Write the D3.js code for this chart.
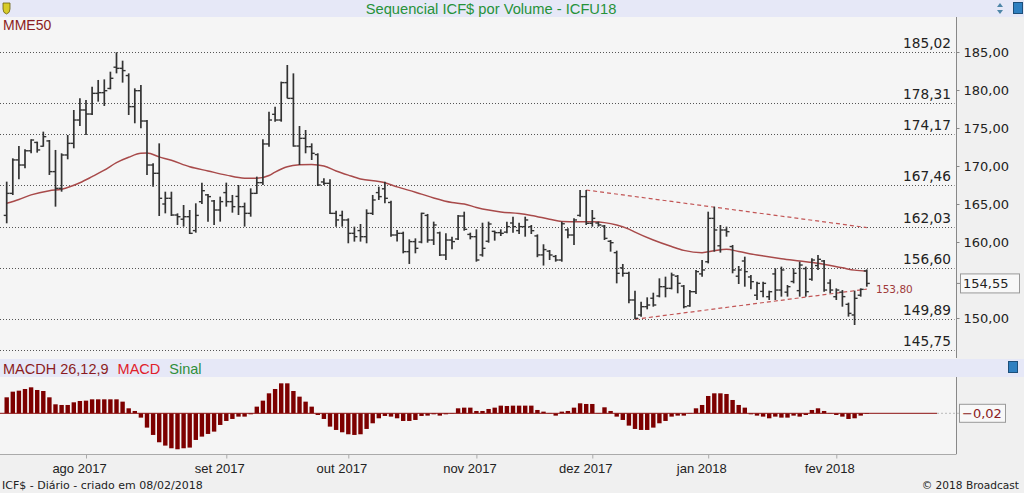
<!DOCTYPE html>
<html>
<head>
<meta charset="utf-8">
<script src="https://cdn.jsdelivr.net/npm/d3@7"></script>
<style>
body { margin: 0; background: #f0f0f0; overflow: hidden; }
text { font-family: "Liberation Sans", Arial, sans-serif; }
.num { font-family: "DejaVu Sans", Verdana, sans-serif; }
</style>
</head>
<body>
<div id="chart"></div>
<script>
// daily bars (ICFU18)
const highs = [167.94,171.01,172.63,172.19,173.51,173.20,174.52,173.42,172.11,171.67,
  174.08,177.37,178.90,178.69,180.44,181.32,181.40,182.41,184.96,183.86,
  182.19,180.22,180.66,176.05,170.35,172.98,166.62,166.62,163.77,164.87,
  164.21,165.09,167.81,166.32,165.53,165.97,167.81,166.19,167.50,165.18,
  167.06,168.60,173.51,177.15,177.81,181.10,183.29,182.19,175.26,174.74,
  172.98,171.67,168.38,168.25,164.12,164.12,163.11,162.02,162.37,164.30,
  166.19,167.28,167.94,165.44,161.58,161.36,160.35,160.48,163.86,163.69,
  162.68,161.36,161.14,160.70,163.55,163.99,161.23,161.67,162.54,162.68,
  161.49,161.67,162.68,163.33,162.54,163.33,162.24,161.00,159.70,158.95,
  158.29,162.68,161.80,163.11,166.84,166.84,164.21,162.68,162.24,160.26,
  158.86,157.11,156.10,153.60,152.15,152.72,153.33,155.22,155.44,155.97,
  155.66,154.34,153.68,156.32,157.63,163.99,164.65,162.24,162.02,159.61,
  156.84,158.07,155.66,154.78,154.78,153.60,156.54,156.76,154.34,156.54,
  157.41,156.76,157.85,158.29,157.63,155.09,153.90,153.68,152.02,153.60,
  153.90,156.40];
const lows = [162.46,166.18,168.25,169.69,171.67,171.76,172.54,168.82,164.65,166.62,
  170.88,172.33,175.26,174.08,176.71,178.47,177.90,180.09,182.19,180.97,
  176.71,175.62,174.96,168.82,167.28,163.42,163.77,163.42,162.24,162.02,
  161.05,161.23,165.00,162.68,162.24,162.68,164.65,163.86,163.55,162.02,
  163.33,166.32,167.50,172.54,175.83,175.83,178.90,172.54,170.13,171.67,
  170.79,167.37,167.50,163.69,162.02,162.02,159.83,160.05,160.05,159.83,
  163.55,165.53,165.09,160.70,160.05,158.51,157.11,158.51,159.83,159.91,
  159.61,158.16,157.63,159.04,160.26,161.49,160.35,157.41,158.07,159.91,
  160.18,160.79,161.14,161.23,161.05,160.70,161.05,158.00,156.90,157.63,
  157.41,157.41,160.48,159.61,163.33,162.24,162.02,162.02,160.26,158.73,
  154.56,155.44,151.93,149.83,150.18,151.14,151.49,152.72,152.72,153.77,
  153.25,151.27,151.49,153.16,155.44,157.19,158.73,158.60,160.70,155.88,
  154.47,154.12,153.77,152.37,152.72,152.37,152.37,152.81,152.81,154.56,
  152.81,152.81,154.91,156.32,153.46,153.25,152.37,151.49,150.18,149.08,
  152.81,154.12];
const opens = [163.50,166.40,170.80,170.13,172.00,173.10,172.60,173.30,169.26,167.06,
  171.45,172.98,176.05,177.37,176.84,179.56,179.65,180.20,183.00,182.85,
  181.90,177.81,179.91,175.92,170.13,169.04,165.00,165.75,163.55,163.00,
  163.33,161.50,165.30,166.20,165.40,164.21,166.50,165.31,166.00,164.65,
  163.77,166.40,167.81,172.90,176.80,176.05,180.97,178.90,172.63,173.64,
  172.54,171.50,167.90,167.72,163.77,163.50,162.90,161.14,161.50,160.70,
  163.77,166.50,167.00,165.20,160.92,161.14,158.73,160.05,160.00,163.50,
  160.26,161.20,158.29,160.26,160.40,163.42,161.00,160.70,158.30,160.10,
  161.40,161.23,161.30,162.50,161.50,162.02,162.00,160.80,158.30,158.80,
  158.10,157.63,161.60,160.92,163.50,165.97,162.46,162.50,162.10,160.10,
  158.60,156.60,155.88,152.37,150.40,151.49,152.60,152.90,154.12,153.90,
  155.50,154.20,151.60,153.46,155.80,157.40,163.11,159.50,161.58,159.40,
  155.50,157.50,155.40,153.00,153.50,152.80,155.80,153.68,153.40,154.80,
  153.60,156.50,155.10,156.90,157.50,154.60,152.80,153.40,151.80,150.40,
  153.00,156.20];
const closes = [166.40,170.80,170.13,172.00,173.42,172.11,173.86,169.26,167.06,171.45,
  172.98,176.05,177.37,176.84,179.56,179.65,179.91,181.54,182.85,182.55,
  177.81,179.91,175.92,170.13,169.04,165.75,165.75,163.55,163.33,163.33,
  161.14,163.50,166.75,165.97,164.21,165.31,165.31,164.65,164.65,163.77,
  166.40,167.81,172.90,176.05,176.05,180.97,178.90,172.63,173.64,172.54,
  171.67,167.50,167.72,163.77,162.90,162.90,161.14,160.70,160.70,163.77,
  165.53,165.97,165.75,160.92,161.14,158.73,160.05,159.17,163.77,160.26,
  162.24,158.29,160.26,160.05,163.42,161.67,160.70,157.63,159.17,162.37,
  161.23,161.14,162.02,162.02,162.02,162.90,161.49,158.30,159.00,158.29,
  157.63,162.40,160.92,162.90,165.97,162.46,163.11,162.24,160.48,159.91,
  155.88,155.88,152.37,149.96,151.49,151.71,151.71,154.12,153.90,155.66,
  154.56,151.49,153.46,156.10,156.32,163.11,161.58,161.58,161.36,156.32,
  156.32,156.10,154.78,154.56,154.56,153.46,153.68,156.32,154.12,155.88,
  156.97,153.46,157.63,157.72,153.68,153.68,153.68,152.81,150.61,152.59,
  153.77,154.55];

// MME50 read at some bars
const mmeBar = [0,2,4,7,9,12,14,16,18,20,22,23,25,27,30,33,36,39,41,43,44,46,48,50,52,54,56,58,61,62,
  64,67,68,70,73,75,77,79,81,84,86,89,91,94,96,98,100,102,103,106,109,111,114,116,118,120,123,127,130,133,137,139,141];
const mmeVal = [165.1,165.6,166.2,166.75,166.95,167.8,168.6,169.45,170.45,171.15,171.67,171.7,171.2,170.75,169.9,169.35,168.8,168.4,168.38,168.75,
  169.2,169.9,170.15,170.2,170.0,169.35,168.8,168.3,167.95,167.8,
  167.25,166.55,166.3,165.8,165.2,165.0,164.55,164.2,163.95,163.75,163.5,163.0,162.7,162.67,162.65,162.55,162.24,161.7,161.3,160.26,
  159.4,158.9,158.6,158.86,159.04,158.75,158.3,157.8,157.5,157.2,156.6,156.3,156.15];

// MACD histogram
const macdHist = [0.48,0.65,0.68,0.73,0.78,0.70,0.67,0.48,0.27,0.25,
  0.25,0.33,0.37,0.38,0.42,0.42,0.42,0.42,0.42,0.35,
  0.15,0.07,-0.13,-0.43,-0.65,-0.87,-0.97,-1.05,-1.08,-1.05,
  -1.03,-0.80,-0.70,-0.62,-0.55,-0.35,-0.23,-0.17,-0.10,-0.10,
  -0.03,0.20,0.38,0.60,0.73,0.90,0.90,0.67,0.50,0.35,
  0.20,-0.05,-0.17,-0.40,-0.50,-0.57,-0.63,-0.65,-0.63,-0.47,
  -0.30,-0.15,-0.08,-0.10,-0.15,-0.23,-0.23,-0.20,-0.08,-0.07,
  -0.03,-0.07,-0.03,-0.01,0.15,0.17,0.17,0.07,0.07,0.13,
  0.17,0.23,0.22,0.23,0.23,0.23,0.23,0.10,0.05,0.01,
  -0.07,0.05,0.07,0.17,0.30,0.28,0.28,0.01,0.18,0.07,
  -0.10,-0.20,-0.37,-0.47,-0.50,-0.50,-0.43,-0.30,-0.23,-0.10,
  -0.07,-0.07,0.01,0.15,0.25,0.52,0.60,0.60,0.58,0.40,
  0.25,0.17,-0.03,-0.07,-0.10,-0.15,-0.10,-0.13,-0.13,-0.07,
  -0.10,-0.05,0.10,0.15,0.07,0.01,-0.05,-0.10,-0.17,-0.15,
  -0.07,-0.02];

const months = ["ago 2017","set 2017","out 2017","nov 2017","dez 2017","jan 2018","fev 2018"];
const monthBar = [13,36,56,77,96,115,136];
const fibLevels = [185.02,178.31,174.17,167.46,162.03,156.60,149.89,145.75];
// 155,00 is covered by the last-price box in the original
const priceTicks = [150,160,165,170,175,180,185];
const lastPrice = 154.55;
const lastMacd = -0.02;
// trend lines: [bar, value]
const trendUpBar = [95,141], trendUpVal = [166.84,161.9];
const trendLoBar = [103,141], trendLoVal = [149.83,153.80];

const W = 1024, H = 493;
const axisX = 956.5;
const comma = v => d3.format(".2f")(v).replace(".", ",");

const svg = d3.select("#chart").append("svg")
    .attr("width", W).attr("height", H);

let x = d3.scaleLinear().domain([0, 141]).range([6.7, 866.8]);
let y = d3.scaleLinear().domain([150, 185]).range([318, 52]);
let ym = d3.scaleLinear().domain([0, 1]).range([413.3, 380]);

// backgrounds
svg.append("rect").attr("width", W).attr("height", H).attr("fill", "#f0f0f0");
svg.append("rect").attr("width", W).attr("height", 17).attr("fill", "#e6e8f7");
svg.append("rect").attr("x", 0).attr("y", 17).attr("width", axisX).attr("height", 342).attr("fill", "#f5f5f5");
svg.append("rect").attr("x", 0).attr("y", 359).attr("width", W).attr("height", 18).attr("fill", "#e6e8f7");
svg.append("rect").attr("x", 0).attr("y", 377).attr("width", axisX).attr("height", 77).attr("fill", "#f5f5f5");

// title + icons
svg.append("text").attr("x", 491).attr("y", 14).attr("text-anchor", "middle")
    .attr("font-size", "14.7px").attr("fill", "#27923a")
    .text("Sequencial ICF$ por Volume - ICFU18");
svg.append("path").attr("d", "M3,3 h7 v6 q0,4 -3.5,5 q-3.5,-1 -3.5,-5 z")
    .attr("fill", "#d8cc2a").attr("stroke", "#6b6010").attr("stroke-width", 0.8);
svg.append("path").attr("d", "M997,7 l3,-4 l3,4 z M997,10 l3,4 l3,-4 z").attr("fill", "#4f86a8");
svg.append("rect").attr("x", 1013.5).attr("y", 2.5).attr("width", 9).attr("height", 11)
    .attr("fill", "#2f80c0").attr("stroke", "#1d4f7a");
svg.append("rect").attr("x", 1008.5).attr("y", 361.5).attr("width", 9).attr("height", 11)
    .attr("fill", "#2f80c0").attr("stroke", "#1d4f7a");

// fibonacci levels
svg.append("g").selectAll("line").data(fibLevels).enter().append("line")
    .attr("x1", 0).attr("x2", axisX - 2)
    .attr("y1", d => Math.round(y(d)) + 0.5).attr("y2", d => Math.round(y(d)) + 0.5)
    .attr("stroke", "#555").attr("stroke-dasharray", "1,2");
svg.append("g").selectAll("text").data(fibLevels).enter().append("text")
    .attr("class", "num").attr("x", 951).attr("y", d => y(d) - 4)
    .attr("text-anchor", "end").attr("font-size", "13.7px").attr("fill", "#222")
    .text(d => comma(d));

// right axis
svg.append("line").attr("x1", axisX).attr("x2", axisX).attr("y1", 17).attr("y2", 358).attr("stroke", "#888");
let ax = svg.append("g").attr("transform", "translate(" + axisX + ",0)")
    .call(d3.axisRight(y).tickValues(priceTicks).tickSize(3).tickPadding(4).tickFormat(comma));
ax.select(".domain").remove();
ax.selectAll("line").attr("stroke", "#888");
ax.selectAll("text").attr("class", "num").attr("font-size", "13px").attr("fill", "#222");

// MME50
svg.append("path")
    .datum(mmeBar.map((b, i) => [b, mmeVal[i]]))
    .attr("fill", "none").attr("stroke", "#a84a4a").attr("stroke-width", 1.5)
    .attr("d", d3.line().x(d => x(d[0])).y(d => y(d[1])).curve(d3.curveMonotoneX));

// trend lines
[[trendUpBar, trendUpVal], [trendLoBar, trendLoVal]].forEach(t => {
  svg.append("line")
    .attr("x1", x(t[0][0])).attr("y1", y(t[1][0]))
    .attr("x2", x(t[0][1])).attr("y2", y(t[1][1]))
    .attr("stroke", "#c25555").attr("stroke-width", 1.2).attr("stroke-dasharray", "4,3");
});

// OHLC bars
let bars = svg.append("g").attr("stroke", "#333").attr("stroke-width", 1.7)
  .selectAll("g").data(highs).enter().append("g");
bars.append("line").attr("x1", (d, i) => x(i)).attr("x2", (d, i) => x(i))
    .attr("y1", d => y(d)).attr("y2", (d, i) => y(lows[i]));
bars.append("line").attr("x1", (d, i) => x(i) - 3).attr("x2", (d, i) => x(i))
    .attr("y1", (d, i) => y(opens[i])).attr("y2", (d, i) => y(opens[i])).attr("stroke-width", 1.4);
bars.append("line").attr("x1", (d, i) => x(i)).attr("x2", (d, i) => x(i) + 3)
    .attr("y1", (d, i) => y(closes[i])).attr("y2", (d, i) => y(closes[i])).attr("stroke-width", 1.4);

// labels on the price panel
svg.append("text").attr("class", "num").attr("x", 876).attr("y", y(trendLoVal[1]) + 4)
    .attr("font-size", "10.5px").attr("fill", "#a03a3a").text(comma(trendLoVal[1]));
svg.append("text").attr("x", 3).attr("y", 30).attr("font-size", "14px").attr("fill", "#8b1c22").text("MME50");
svg.append("line").attr("x1", axisX).attr("x2", 960).attr("y1", y(lastPrice)).attr("y2", y(lastPrice)).attr("stroke", "#888");
svg.append("rect").attr("x", 960.5).attr("y", y(lastPrice) - 9.5).attr("width", 59).attr("height", 19)
    .attr("fill", "#f8f8f8").attr("stroke", "#999");
svg.append("text").attr("class", "num").attr("x", 963).attr("y", y(lastPrice) + 5)
    .attr("font-size", "13px").attr("fill", "#222").text(comma(lastPrice));

// MACD header
let hdr = svg.append("text").attr("x", 3).attr("y", 373.5).attr("font-size", "14.5px");
hdr.append("tspan").attr("fill", "#8b1c22").text("MACDH 26,12,9");
hdr.append("tspan").attr("fill", "#e0202a").attr("dx", 9).text("MACD");
hdr.append("tspan").attr("fill", "#2f8f3a").attr("dx", 9).text("Sinal");

// MACD histogram
svg.append("g").selectAll("rect").data(macdHist).enter().append("rect")
    .attr("x", (d, i) => x(i) - 2.2).attr("width", 4.4)
    .attr("y", d => Math.min(ym(d), ym(0))).attr("height", d => Math.abs(ym(d) - ym(0)))
    .attr("fill", "#7d0000");
svg.append("line").attr("x1", 0).attr("x2", 937).attr("y1", ym(0)).attr("y2", ym(0))
    .attr("stroke", "#8b1010").attr("stroke-width", 1);
svg.append("line").attr("x1", 937).attr("x2", 959).attr("y1", ym(0)).attr("y2", ym(0))
    .attr("stroke", "#bbb").attr("stroke-dasharray", "2,2");
svg.append("rect").attr("x", 959.5).attr("y", ym(0) - 9).attr("width", 46).attr("height", 18)
    .attr("fill", "#f8f8f8").attr("stroke", "#999");
svg.append("text").attr("class", "num").attr("x", 962).attr("y", ym(0) + 5)
    .attr("font-size", "13px").attr("fill", "#8b1c22").text(comma(lastMacd));
svg.append("line").attr("x1", axisX).attr("x2", axisX).attr("y1", 377).attr("y2", 454).attr("stroke", "#888");

// x axis
let xa = svg.append("g").attr("transform", "translate(0,454.5)")
    .call(d3.axisBottom(x).tickValues(monthBar).tickSize(4).tickPadding(5).tickFormat((d, i) => months[i]));
xa.select(".domain").attr("d", "M0,0H" + axisX).attr("stroke", "#aaa");
xa.selectAll("line").attr("stroke", "#aaa");
xa.selectAll("text").attr("font-size", "13px").attr("fill", "#222").attr("dx", -7);

// footer
svg.append("text").attr("class", "num").attr("x", 2).attr("y", 489)
    .attr("font-size", "11px").attr("fill", "#222").text("ICF$ - Diário - criado em 08/02/2018");
svg.append("text").attr("class", "num").attr("x", 1019).attr("y", 489).attr("text-anchor", "end")
    .attr("font-size", "10.6px").attr("fill", "#222").text("© 2018 Broadcast");
</script>
</body>
</html>
